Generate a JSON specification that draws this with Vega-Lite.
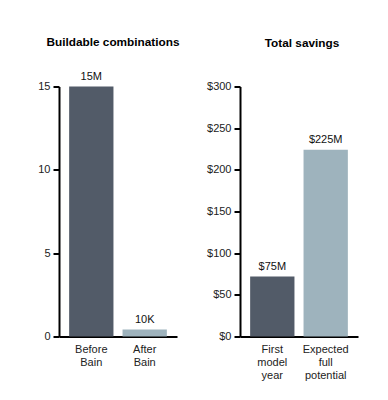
{
  "$schema": "https://vega.github.io/schema/vega-lite/v6.json",
  "background": "white",
  "padding": {"left": 37, "top": 36.5, "right": 5, "bottom": 5},
  "spacing": 26,
  "config": {
    "font": "Liberation Sans",
    "view": {"stroke": null},
    "title": {"fontSize": 11.8, "fontWeight": "bold", "color": "#000", "anchor": "middle", "frame": "group"},
    "axis": {
      "grid": false,
      "domainColor": "#000",
      "domainWidth": 2,
      "tickColor": "#000",
      "tickWidth": 2,
      "tickSize": 6,
      "labelFontSize": 11,
      "labelColor": "#222",
      "labelFont": "Liberation Sans",
      "title": null
    }
  },
  "hconcat": [
    {
      "title": {"text": "Buildable combinations", "offset": 21.5, "dx": -5},
      "width": 118,
      "height": 250,
      "data": {"values": [
        {"category": "Before|Bain", "value": 15, "label": "15M", "shade": "dark"},
        {"category": "After|Bain", "value": 0.42, "label": "10K", "shade": "light"}
      ]},
      "encoding": {
        "x": {"field": "category", "type": "nominal", "sort": null,
          "scale": {"paddingInner": 0.17, "paddingOuter": 0.19},
          "axis": {"labelAngle": 0, "ticks": false, "labelPadding": 7, "labelExpr": "split(datum.value, '|')", "labelLineHeight": 13}},
        "y": {"field": "value", "type": "quantitative",
          "scale": {"domain": [0, 15], "nice": false},
          "axis": {"values": [0, 5, 10, 15], "labelPadding": 3}}
      },
      "layer": [
        {"mark": {"type": "bar"},
          "encoding": {"color": {"field": "shade", "type": "nominal", "scale": {"domain": ["dark", "light"], "range": ["#525b68", "#9eb3bd"]}, "legend": null}}},
        {"mark": {"type": "text", "baseline": "bottom", "dy": -5, "fontSize": 11, "color": "#111"},
          "encoding": {"text": {"field": "label"}}}
      ]
    },
    {
      "title": {"text": "Total savings", "offset": 30.5, "dx": 3},
      "width": 118,
      "height": 250,
      "data": {"values": [
        {"category": "First|model|year", "value": 72, "label": "$75M", "shade": "dark"},
        {"category": "Expected|full|potential", "value": 224, "label": "$225M", "shade": "light"}
      ]},
      "encoding": {
        "x": {"field": "category", "type": "nominal", "sort": null,
          "scale": {"paddingInner": 0.17, "paddingOuter": 0.19},
          "axis": {"labelAngle": 0, "ticks": false, "labelPadding": 7, "labelExpr": "split(datum.value, '|')", "labelLineHeight": 13}},
        "y": {"field": "value", "type": "quantitative",
          "scale": {"domain": [0, 300], "nice": false},
          "axis": {"values": [0, 50, 100, 150, 200, 250, 300], "labelPadding": 3, "labelExpr": "'$' + datum.value"}}
      },
      "layer": [
        {"mark": {"type": "bar"},
          "encoding": {"color": {"field": "shade", "type": "nominal", "scale": {"domain": ["dark", "light"], "range": ["#525b68", "#9eb3bd"]}, "legend": null}}},
        {"mark": {"type": "text", "baseline": "bottom", "dy": -5, "fontSize": 11, "color": "#111"},
          "encoding": {"text": {"field": "label"}}}
      ]
    }
  ]
}
